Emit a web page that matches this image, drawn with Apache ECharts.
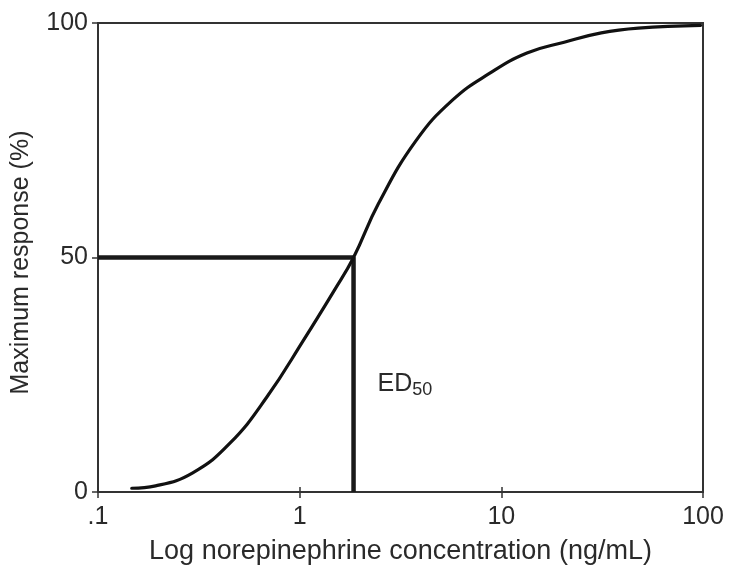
<!DOCTYPE html>
<html>
<head>
<meta charset="utf-8">
<title>Norepinephrine dose-response</title>
<script src="https://cdn.jsdelivr.net/npm/echarts@6/dist/echarts.min.js"></script>
<style>
  html, body { margin: 0; padding: 0; background: #ffffff; }
  #chart { width: 729px; height: 565px; }
</style>
</head>
<body>
<div id="chart"></div>
<script>
// Concentration (ng/mL) and response (% of maximum) along the dose-response curve
const concentration = [0.147, 0.193, 0.295, 0.451, 0.689, 1.053, 1.485, 1.85, 2.46, 3.76, 5.74, 8.77, 13.4, 20.5, 31.3, 47.8, 97.3];
const response      = [0.8,   1.3,   4.1,   10.4,  20.3,  32.6,  43.0,  50.0, 61.5, 74.8, 83.6, 89.3, 93.6, 95.9, 97.9, 98.9, 99.5];

// ED50 reference value
const ed50 = 1.85;
const halfResponse = 50;

// Axis ticks
const xTicks = [0.1, 1, 10, 100];
const xTickLabels = ['.1', '1', '10', '100'];

const FONT = '"Liberation Sans", Arial, Helvetica, sans-serif';
const TEXT = '#2a2a2a';
const AXIS = '#333333';

const chart = echarts.init(document.getElementById('chart'));

const curve = concentration.map((c, i) => [c, response[i]]);
const guide = [[xTicks[0], halfResponse], [ed50, halfResponse], [ed50, 0]];

function xLabel(v) {
  const i = xTicks.findIndex(t => Math.abs(Math.log10(t) - Math.log10(v)) < 1e-6);
  return i >= 0 ? xTickLabels[i] : '';
}

chart.setOption({
  animation: false,
  backgroundColor: '#ffffff',
  grid: {
    left: 98, right: 26, top: 23, bottom: 73,
    outerBoundsMode: 'none',
    containLabel: false,
    show: true, borderColor: AXIS, borderWidth: 2, backgroundColor: 'transparent'
  },
  xAxis: [{
    type: 'log', logBase: 10, min: 0.1, max: 100,
    name: 'Log norepinephrine concentration (ng/mL)',
    nameLocation: 'middle', nameGap: 46,
    nameTextStyle: { fontFamily: FONT, fontSize: 27, color: TEXT },
    axisLine: { lineStyle: { color: AXIS, width: 2 } },
    axisTick: { inside: true, length: 5, lineStyle: { color: AXIS, width: 1.5 } },
    axisLabel: { formatter: xLabel, fontFamily: FONT, fontSize: 25, color: TEXT, margin: 13 },
    splitLine: { show: false },
    minorTick: { show: false }
  }, {
    // outward half of the crossing x ticks
    type: 'log', logBase: 10, min: 0.1, max: 100, position: 'bottom',
    axisLine: { show: false },
    axisTick: { inside: false, length: 6, lineStyle: { color: AXIS, width: 1.5 } },
    axisLabel: { show: false },
    splitLine: { show: false }
  }],
  yAxis: {
    type: 'value', min: 0, max: 100, interval: 50,
    name: 'Maximum response (%)',
    nameLocation: 'middle', nameGap: 64, nameRotate: 90,
    nameTextStyle: { fontFamily: FONT, fontSize: 25, color: TEXT, padding: [0, 10, 0, 0] },
    axisLine: { show: true, lineStyle: { color: AXIS, width: 2 } },
    axisTick: { show: true, inside: false, length: 6, lineStyle: { color: AXIS, width: 1.5 } },
    axisLabel: { fontFamily: FONT, fontSize: 25, color: TEXT, margin: 10 },
    splitLine: { show: false }
  },
  series: [{
    name: 'ED50 guide',
    type: 'line',
    data: guide,
    symbol: 'none',
    lineStyle: { color: '#1a1a1a', width: 4.5 },
    z: 3
  }, {
    name: 'Response',
    type: 'line',
    data: curve,
    smooth: 0.45,
    symbol: 'none',
    lineStyle: { color: '#111111', width: 3.2, cap: 'round' },
    z: 4
  }, {
    name: 'ED50 label',
    type: 'scatter',
    data: [[ed50, 23]],
    symbolSize: 0,
    silent: true,
    itemStyle: { opacity: 1 },
    label: {
      show: true,
      position: 'right',
      distance: 24,
      color: TEXT,
      formatter: '{a|ED}{b|50}',
      rich: {
        a: { fontFamily: FONT, fontSize: 25, color: TEXT },
        b: { fontFamily: FONT, fontSize: 18, color: TEXT, verticalAlign: 'bottom', padding: [12, 0, 0, 0] }
      }
    },
    z: 5
  }]
});
</script>
</body>
</html>
